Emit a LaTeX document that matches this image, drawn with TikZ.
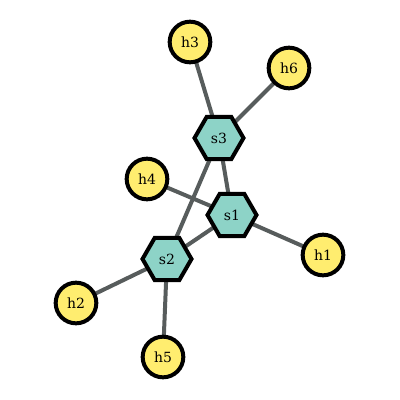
\documentclass[tikz,border=0pt]{standalone}
\usepackage{fontspec}
\setmainfont{DejaVu Serif}
\usetikzlibrary{shapes.geometric}
\pgfdeclarelayer{background}
\pgfsetlayers{background,main}
\definecolor{hostfill}{HTML}{FFED6F}
\definecolor{switchfill}{HTML}{8DD3C7}
\definecolor{edgegray}{HTML}{575C5C}
\tikzset{
  host/.style={circle, draw=black, line width=3pt, fill=hostfill, inner sep=0pt, minimum size=30.5pt, font=\fontsize{10.5}{12}\selectfont},
  switch/.style={regular polygon, regular polygon sides=6, draw=black, line width=3pt, fill=switchfill, inner sep=0pt, minimum size=36.75pt, font=\fontsize{10.5}{12}\selectfont},
  link/.style={draw=edgegray, line width=3pt}
}
\begin{document}
\begin{tikzpicture}[x=0.75pt,y=-0.75pt]
\useasboundingbox (0,0) rectangle (400,400);
\node[switch] (s3) at (219,138) {s3};
\node[switch] (s1) at (232,215) {s1};
\node[switch] (s2) at (167,259) {s2};
\node[host] (h3) at (190,42) {h3};
\node[host] (h6) at (289,68) {h6};
\node[host] (h4) at (147,179) {h4};
\node[host] (h1) at (323,255) {h1};
\node[host] (h2) at (76,303) {h2};
\node[host] (h5) at (163,357) {h5};
\begin{pgfonlayer}{background}
\draw[link] (h3.center) -- (s3.center);
\draw[link] (h6.center) -- (s3.center);
\draw[link] (s3.center) -- (s1.center);
\draw[link] (s3.center) -- (s2.center);
\draw[link] (h4.center) -- (s1.center);
\draw[link] (s1.center) -- (s2.center);
\draw[link] (s1.center) -- (h1.center);
\draw[link] (s2.center) -- (h2.center);
\draw[link] (s2.center) -- (h5.center);
\end{pgfonlayer}
\end{tikzpicture}
\end{document}
